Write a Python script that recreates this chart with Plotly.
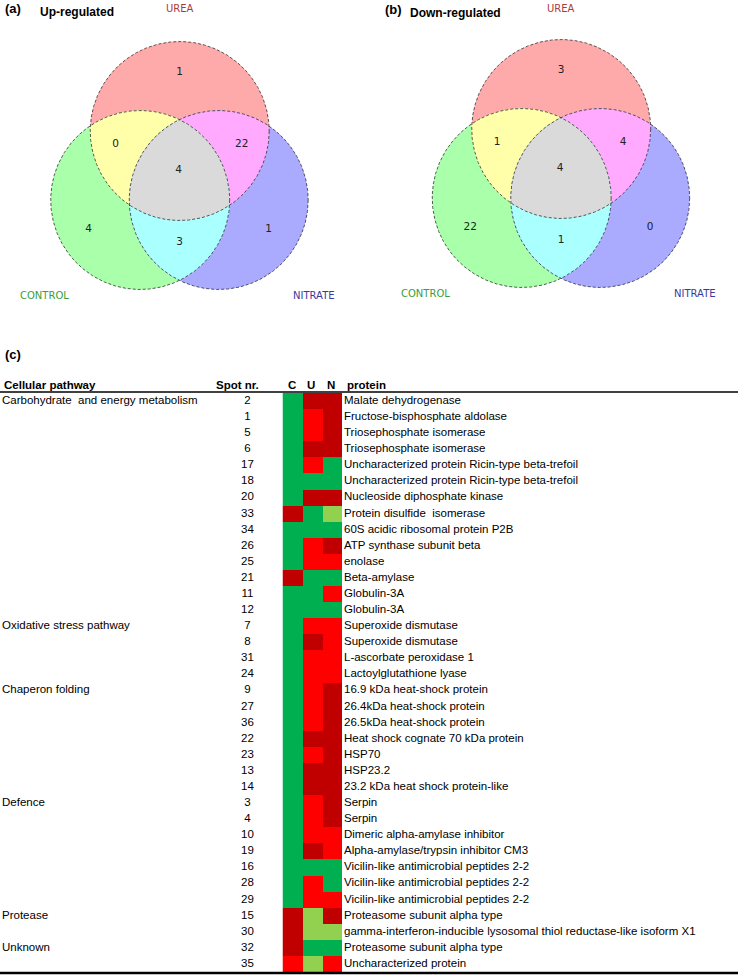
import numpy as np
import plotly.graph_objects as go

# ---------------- Venn data ----------------
set_names = ["UREA", "CONTROL", "NITRATE"]
region_names = ["U", "UC", "UN", "UCN", "C", "CN", "N"]
up_counts = [1, 0, 22, 4, 4, 3, 1]
down_counts = [3, 1, 4, 4, 22, 1, 0]

# ---------------- Table data ----------------
pathways = ["Carbohydrate  and energy metabolism"] + [""] * 13 + \
           ["Oxidative stress pathway"] + [""] * 3 + \
           ["Chaperon folding"] + [""] * 6 + \
           ["Defence"] + [""] * 6 + \
           ["Protease", "", "Unknown", ""]
spots = [2, 1, 5, 6, 17, 18, 20, 33, 34, 26, 25, 21, 11, 12,
         7, 8, 31, 24,
         9, 27, 36, 22, 23, 13, 14,
         3, 4, 10, 19, 16, 28, 29,
         15, 30, 32, 35]
proteins = [
    "Malate dehydrogenase", "Fructose-bisphosphate aldolase", "Triosephosphate isomerase",
    "Triosephosphate isomerase", "Uncharacterized protein Ricin-type beta-trefoil",
    "Uncharacterized protein Ricin-type beta-trefoil", "Nucleoside diphosphate kinase",
    "Protein disulfide  isomerase", "60S acidic ribosomal protein P2B", "ATP synthase subunit beta",
    "enolase", "Beta-amylase", "Globulin-3A", "Globulin-3A",
    "Superoxide dismutase", "Superoxide dismutase", "L-ascorbate peroxidase 1", "Lactoylglutathione lyase",
    "16.9 kDa heat-shock protein", "26.4kDa heat-shock protein", "26.5kDa heat-shock protein",
    "Heat shock cognate 70 kDa protein", "HSP70", "HSP23.2", "23.2 kDa heat shock protein-like",
    "Serpin", "Serpin", "Dimeric alpha-amylase inhibitor", "Alpha-amylase/trypsin inhibitor CM3",
    "Vicilin-like antimicrobial peptides 2-2", "Vicilin-like antimicrobial peptides 2-2",
    "Vicilin-like antimicrobial peptides 2-2",
    "Proteasome subunit alpha type",
    "gamma-interferon-inducible lysosomal thiol reductase-like isoform X1",
    "Proteasome subunit alpha type", "Uncharacterized protein",
]
conditions = ["C", "U", "N"]
# G = green, L = light green, R = red, D = dark red
control = list("GGGGGGGDGGGDGG" + "GGGG" + "GGGGGGG" + "GGGGGGG" + "DDDR")
urea = list("DRRDRGDGGRRGGG" + "RDRR" + "RRRDRDD" + "RRRDGRR" + "LLGL")
nitrate = list("DDDDGGDLGDRGRG" + "RRRR" + "DDDDDDD" + "DDRRGGR" + "DLGR")

code_value = {"G": 0, "L": 1, "R": 2, "D": 3}
z = [[code_value[c], code_value[u], code_value[n]] for c, u, n in zip(control, urea, nitrate)]
rows = list(range(len(spots)))

W, H = 743, 980
FONT = "Liberation Sans, Arial, sans-serif"
VFONT = "DejaVu Sans, Verdana, sans-serif"

fig = go.Figure()

# ---------------- Venn diagrams ----------------
R = 89.5
circle_offsets = {"U": (0.0, 0.0), "C": (-39.5, 69.0), "N": (39.0, 69.0)}
fills = {"U": "#FFAAAA", "C": "#AAFFAA", "N": "#AAAAFF",
         "UC": "#FFFFAA", "UN": "#FFAAFF", "CN": "#AAFFFF", "UCN": "#DADADA"}
label_offsets = {"U": (0, -59), "UC": (-64, 13), "UN": (62, 13), "UCN": (-1, 39),
                 "C": (-91, 98), "CN": (0, 111), "N": (89, 98)}
name_offsets = {"UREA": None, "CONTROL": (-135.5, 164.5), "NITRATE": (134, 164.5)}
name_colors = {"UREA": "#A83C3C", "CONTROL": "#3A9E3A", "NITRATE": "#3A3A9E"}

th = np.linspace(0, 2 * np.pi, 1441)


def circ_pts(c):
    return c[0] + R * np.cos(th), c[1] + R * np.sin(th)


def intersection(cs):
    xs, ys = [], []
    for i, c in enumerate(cs):
        px, py = circ_pts(c)
        ok = np.ones_like(px, dtype=bool)
        for j, d in enumerate(cs):
            if i != j:
                ok &= (px - d[0]) ** 2 + (py - d[1]) ** 2 <= R ** 2 + 1e-6
        xs.append(px[ok]); ys.append(py[ok])
    xs = np.concatenate(xs); ys = np.concatenate(ys)
    mx, my = xs.mean(), ys.mean()
    order = np.argsort(np.arctan2(ys - my, xs - mx))
    xs, ys = xs[order], ys[order]
    return np.append(xs, xs[0]), np.append(ys, ys[0])


def add_venn(ux, uy, counts):
    cen = {k: (ux + v[0], uy + v[1]) for k, v in circle_offsets.items()}
    for k in ["U", "C", "N"]:
        px, py = circ_pts(cen[k])
        fig.add_trace(go.Scatter(x=px, y=py, fill="toself", fillcolor=fills[k], mode="none",
                                 hoverinfo="skip", showlegend=False))
    for k in ["UC", "UN", "CN", "UCN"]:
        px, py = intersection([cen[ch] for ch in k])
        fig.add_trace(go.Scatter(x=px, y=py, fill="toself", fillcolor=fills[k], mode="none",
                                 hoverinfo="skip", showlegend=False))
    for k in ["U", "C", "N"]:
        px, py = circ_pts(cen[k])
        fig.add_trace(go.Scatter(x=px, y=py, mode="lines", hoverinfo="skip", showlegend=False,
                                 line=dict(color="#333333", width=0.8, dash="3px,2px")))
    fig.add_trace(go.Scatter(
        x=[ux + label_offsets[r][0] for r in region_names],
        y=[uy + label_offsets[r][1] for r in region_names],
        text=[str(v) for v in counts], mode="text", hoverinfo="skip", showlegend=False,
        textfont=dict(family=VFONT, size=10.5, color="#222222")))
    for name in set_names:
        if name == "UREA":
            x, y = ux, 8
        else:
            x, y = ux + name_offsets[name][0], uy + name_offsets[name][1]
        fig.add_annotation(x=x, y=y, xref="x", yref="y", text=name, showarrow=False,
                           font=dict(family=VFONT, size=10, color=name_colors[name]))


add_venn(179.7, 131.0, up_counts)
add_venn(561.2, 129.0, down_counts)

titles = [("(a)", 3, 8, 13), ("Up-regulated", 38, 12, 12), ("(b)", 383, 9, 13),
          ("Down-regulated", 408, 13, 12), ("(c)", 3, 354, 13)]
for t, x, y, s in titles:
    fig.add_annotation(x=x, y=y, xref="x", yref="y", text="<b>%s</b>" % t, showarrow=False,
                       xanchor="left", yanchor="middle", font=dict(family=FONT, size=s, color="black"))

# ---------------- Table / heatmap ----------------
G, L, Rr, D = "#00B050", "#92D050", "#FF0000", "#C00000"
fig.add_trace(go.Heatmap(
    z=z, x=conditions, y=rows, xaxis="x2", yaxis="y2", zmin=0, zmax=3,
    colorscale=[[0, G], [0.25, G], [0.25, L], [0.5, L], [0.5, Rr], [0.75, Rr], [0.75, D], [1, D]],
    showscale=False, xgap=0, ygap=0, hoverinfo="skip"))

fig.add_trace(go.Scatter(x=[2] * len(rows), y=rows, text=pathways, mode="text", textposition="middle right",
                         xaxis="x", yaxis="y2", hoverinfo="skip", showlegend=False,
                         textfont=dict(family=FONT, size=11.5, color="black")))
fig.add_trace(go.Scatter(x=[247.5] * len(rows), y=rows, text=[str(s) for s in spots], mode="text",
                         textposition="middle center", xaxis="x", yaxis="y2", hoverinfo="skip",
                         showlegend=False, textfont=dict(family=FONT, size=11.5, color="black")))
fig.add_trace(go.Scatter(x=[344] * len(rows), y=rows, text=proteins, mode="text", textposition="middle right",
                         xaxis="x", yaxis="y2", hoverinfo="skip", showlegend=False,
                         textfont=dict(family=FONT, size=11.5, color="black")))

headers = [("Cellular pathway", 2, "left"), ("Spot nr.", 237.5, "center"), ("C", 291.5, "center"),
           ("U", 310.5, "center"), ("N", 331, "center"), ("protein", 345, "left")]
for t, x, a in headers:
    fig.add_annotation(x=x, y=384.5, xref="x", yref="y", text="<b>%s</b>" % t, showarrow=False,
                       xanchor=a, yanchor="middle", font=dict(family=FONT, size=11.5, color="black"))

fig.add_shape(type="line", x0=0, x1=738, y0=392, y1=392, xref="x", yref="y",
              line=dict(color="black", width=1.5))
fig.add_shape(type="line", x0=0, x1=738, y0=973, y1=973, xref="x", yref="y",
              line=dict(color="black", width=2.5))

hm_x0, hm_x1, hm_top, hm_bot = 282.5, 342.0, 393.0, 972.0
fig.update_layout(
    width=W, height=H, margin=dict(l=0, r=0, t=0, b=0),
    paper_bgcolor="white", plot_bgcolor="rgba(0,0,0,0)",
    xaxis=dict(range=[0, W], domain=[0, 1], visible=False, fixedrange=True),
    yaxis=dict(range=[H, 0], domain=[0, 1], visible=False, fixedrange=True),
    xaxis2=dict(domain=[hm_x0 / W, hm_x1 / W], anchor="y2", visible=False, fixedrange=True),
    yaxis2=dict(domain=[1 - hm_bot / H, 1 - hm_top / H], range=[len(rows) - 0.5, -0.5],
                anchor="x2", visible=False, fixedrange=True),
    showlegend=False,
)

fig.write_html("out.html", config={"displayModeBar": False},
               post_script="document.body.style.margin='0';")
